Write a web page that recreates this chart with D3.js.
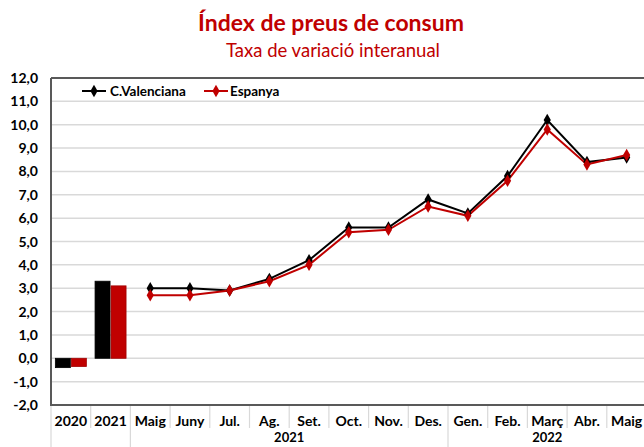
<!DOCTYPE html>
<html><head><meta charset="utf-8">
<script src="https://cdn.jsdelivr.net/npm/d3@7"></script>
<style>body{margin:0;background:#fff;} svg{display:block;}</style>
</head><body>
<svg id="c" width="644" height="447"></svg>
<script>
const categories = ["2020","2021","Maig","Juny","Jul.","Ag.","Set.","Oct.","Nov.","Des.","Gen.","Feb.","Març","Abr.","Maig"];
const barCats = ["2020","2021"];
const barCV = [-0.4, 3.3];
const barES = [-0.35, 3.1];
const lineCV = [3.0, 3.0, 2.9, 3.4, 4.2, 5.6, 5.6, 6.8, 6.2, 7.8, 10.2, 8.4, 8.6];
const lineES = [2.7, 2.7, 2.9, 3.3, 4.0, 5.4, 5.5, 6.5, 6.1, 7.6, 9.8, 8.3, 8.7];
const yTicks = [-2,-1,0,1,2,3,4,5,6,7,8,9,10,11,12];
const groups = [{label:"2021", from:2, to:9},{label:"2022", from:10, to:14}];
const seriesNames = ["C.Valenciana","Espanya"];
const colors = ["#000000","#c00000"];

(function(){
const svg = d3.select("#c");
const font = "Lato, 'Open Sans', sans-serif";
const pL = 51, pT = 78, pB = 405;
const step = 39.7;
const pR = pL + step*categories.length;

const x = d3.scaleBand().domain(d3.range(categories.length)).range([pL, pR]).padding(0);
const y = d3.scaleLinear().domain([-2, 12]).range([pB, pT]);

// title
svg.append("text").attr("x", 331).attr("y", 31).attr("text-anchor","middle")
  .attr("font-family", font).attr("font-weight","bold").attr("font-size", 23).attr("fill","#c00000")
  .text("Índex de preus de consum");
svg.append("text").attr("x", 333).attr("y", 57).attr("text-anchor","middle")
  .attr("font-family", font).attr("font-size", 18.5).attr("fill","#c00000")
  .text("Taxa de variació interanual");

// gridlines
svg.append("g").selectAll("line").data(yTicks.filter(d=>d>-2 && d<12)).join("line")
  .attr("x1", pL).attr("x2", pR).attr("y1", d=>y(d)).attr("y2", d=>y(d))
  .attr("stroke","#d9d9d9").attr("stroke-width",1.5);

// y labels
svg.append("g").selectAll("text").data(yTicks).join("text")
  .attr("x", 38).attr("y", d=>y(d)+5).attr("text-anchor","end")
  .attr("font-family", font).attr("font-weight","bold").attr("font-size", 14).attr("fill","#000")
  .text(d=>d3.format(".1f")(d).replace(".",",").replace("−","-"));

// bars
const bw = 15;
barCats.forEach((c,i)=>{
  const cx = x(i) + x.bandwidth()/2;
  [barCV[i], barES[i]].forEach((v,k)=>{
    const x0 = k===0 ? cx - bw - 0.5 : cx + 0.5;
    svg.append("rect").attr("x", x0).attr("width", bw)
      .attr("y", y(Math.max(0,v))).attr("height", Math.abs(y(v)-y(0)))
      .attr("fill", colors[k]).attr("stroke", k===0?"#000":"#a00000").attr("stroke-width",0.8);
  });
});

// lines
const line = d3.line().x((d,i)=>x(i+2)+x.bandwidth()/2).y(d=>y(d));
[lineCV, lineES].forEach((arr,k)=>{
  svg.append("path").datum(arr).attr("d", line).attr("fill","none")
    .attr("stroke", colors[k]).attr("stroke-width", 2);
});
const diamond = d3.symbol().type(d3.symbolDiamond).size(45);
[lineCV, lineES].forEach((arr,k)=>{
  svg.append("g").selectAll("path").data(arr).join("path")
    .attr("d", diamond)
    .attr("transform",(d,i)=>`translate(${x(i+2)+x.bandwidth()/2},${y(d)})`)
    .attr("fill", colors[k]);
});

// frame
svg.append("line").attr("x1",pL).attr("x2",pL).attr("y1",pT).attr("y2",pB).attr("stroke","#595959").attr("stroke-width",2);
svg.append("line").attr("x1",pL).attr("x2",pR).attr("y1",pT).attr("y2",pT).attr("stroke","#595959").attr("stroke-width",2);
svg.append("line").attr("x1",pL-1).attr("x2",pR).attr("y1",pB).attr("y2",pB).attr("stroke","#595959").attr("stroke-width",2);

// category separators
const seps = d3.range(categories.length+1);
const groupEdges = new Set([0,2,10]);
svg.append("g").selectAll("line").data(seps).join("line")
  .attr("x1", i=> i<categories.length ? x(i) : pR).attr("x2", i=> i<categories.length ? x(i) : pR)
  .attr("y1", pB+1).attr("y2", i=> groupEdges.has(i) ? 447 : 428)
  .attr("stroke","#d9d9d9").attr("stroke-width",1.2);

// category labels
svg.append("g").selectAll("text").data(categories).join("text")
  .attr("x",(d,i)=>x(i)+x.bandwidth()/2).attr("y", 426).attr("text-anchor","middle")
  .attr("font-family", font).attr("font-weight","bold").attr("font-size", 14).attr("fill","#000")
  .text(d=>d);

// group labels
svg.append("g").selectAll("text").data(groups).join("text")
  .attr("x", g=> (x(g.from) + x(g.to)+x.bandwidth())/2).attr("y", 442)
  .attr("text-anchor","middle")
  .attr("font-family", font).attr("font-weight","bold").attr("font-size", 13).attr("fill","#000")
  .text(g=>g.label);

// legend
const leg = [{x:82, tx:110},{x:204, tx:230}];
seriesNames.forEach((n,k)=>{
  const g = svg.append("g");
  g.append("line").attr("x1",leg[k].x).attr("x2",leg[k].x+24).attr("y1",91).attr("y2",91)
    .attr("stroke",colors[k]).attr("stroke-width",2);
  g.append("path").attr("d",diamond).attr("transform",`translate(${leg[k].x+12},91)`).attr("fill",colors[k]);
  g.append("text").attr("x",leg[k].tx).attr("y",95.5).attr("font-family",font).attr("font-weight","bold")
    .attr("font-size",13.5).attr("fill","#000").text(n);
});
})();
</script>
</body></html>
